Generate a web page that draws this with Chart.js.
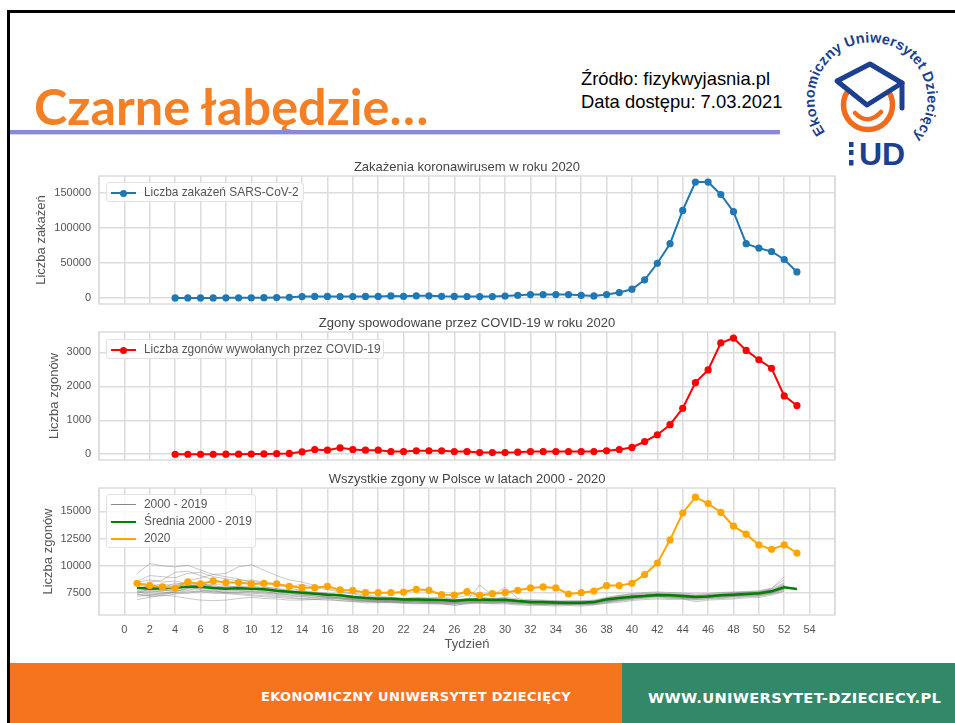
<!DOCTYPE html>
<html lang="pl">
<head>
<meta charset="utf-8">
<title>Czarne łabędzie…</title>
<script src="https://cdn.jsdelivr.net/npm/chart.js@4"></script>
<style>
html, body { margin: 0; padding: 0; background: #fff; }
#slajd { position: relative; width: 955px; height: 723px; overflow: hidden; font-family: "Liberation Sans", Arial, sans-serif; }
.ramkaGora { position: absolute; left: 7px; top: 10px; width: 948px; height: 3px; background: #000; }
.ramkaLewa { position: absolute; left: 7px; top: 10px; width: 3px; height: 713px; background: #000; }
.naglowek { position: absolute; left: 34px; top: 76px; font: bold 50.4px Lato, sans-serif; color: #f57f25; line-height: 60px; white-space: nowrap; }
.kreska { position: absolute; left: 10px; top: 130px; width: 770px; height: 4px; background: #8888e0; border-bottom: 1px solid #d4d4f2; }
.zrodlo { position: absolute; left: 581px; top: 67px; font-size: 18.4px; line-height: 23px; color: #000; white-space: nowrap; }
.stopkaL { position: absolute; left: 10px; top: 663px; width: 612px; height: 60px; background: #f7741f; }
.stopkaP { position: absolute; left: 622px; top: 663px; width: 333px; height: 60px; background: #33886a; }
.stopkaL span, .stopkaP span { position: absolute; top: 26px; color: #fff; font: bold 13px "DejaVu Sans", sans-serif; white-space: nowrap; }
.stopkaL span { left: 251px; letter-spacing: 0.35px; }
.stopkaP span { left: 26px; font-size: 14.7px; letter-spacing: 0.3px; }
canvas { position: absolute; left: 0; filter: blur(0.35px); }
.legenda { position: absolute; left: 106px; box-sizing: border-box; background: rgba(255,255,255,0.8); border: 1px solid #e2e2e2; border-radius: 3px; padding: 0.5px 6px 0.5px 4px; font-size: 11.9px; color: #555; }
.legenda div { position: relative; height: 17px; line-height: 17px; padding-left: 33px; white-space: nowrap; }
.legenda i { position: absolute; left: 0; top: 8px; width: 25px; }
.legenda b { position: absolute; left: 9px; top: -4px; width: 7px; height: 7px; border-radius: 50%; }
#logo { position: absolute; left: 780px; top: 0; }
</style>
</head>
<body>
<div id="slajd">
  <div class="ramkaGora"></div>
  <div class="ramkaLewa"></div>
  <div class="naglowek">Czarne łabędzie…</div>
  <div class="kreska"></div>
  <div class="zrodlo">Źródło: fizykwyjasnia.pl<br>Data dostępu: 7.03.2021</div>

  <svg id="logo" width="175" height="175" viewBox="780 0 175 175">
    <defs><path id="luk" d="M 825.3 132.2 A 56.5 56.5 0 1 1 911.8 138"></path></defs>
    <text font-family="Liberation Sans" font-weight="bold" font-size="14.5" fill="#1d3f8f">
      <textPath href="#luk" textLength="254">Ekonomiczny Uniwersytet Dziecięcy</textPath>
    </text>
    <circle cx="868" cy="105" r="24.5" fill="none" stroke="#f26a1b" stroke-width="5.5"></circle>
    <path d="M 855 113 Q 868 126 881 112" fill="none" stroke="#f26a1b" stroke-width="4.5" stroke-linecap="round"></path>
    <path d="M 837 81 L 870 64 L 902 83 L 867 105 Z" fill="#fff" stroke="#1d3f8f" stroke-width="5" stroke-linejoin="round"></path>
    <path d="M 902 83 L 902 108" fill="none" stroke="#1d3f8f" stroke-width="5" stroke-linecap="round"></path>
    <rect x="832" y="140" width="70" height="30" fill="#fff"></rect>
    <rect x="849" y="142" width="4.5" height="5" fill="#1d3f8f"></rect>
    <rect x="849" y="150" width="4.5" height="5" fill="#1d3f8f"></rect>
    <rect x="849" y="160" width="4.5" height="5.5" fill="#1d3f8f"></rect>
    <text x="859" y="165" font-family="Liberation Sans" font-weight="bold" font-size="32" fill="#1d3f8f">UD</text>
  </svg>

  <canvas id="wykresZakazen" style="top:160px"></canvas>
  <canvas id="wykresZgonowCovid" style="top:316px"></canvas>
  <canvas id="wykresZgonow" style="top:472px"></canvas>
  <div class="legenda" id="legendaZakazen" style="top:182px;width:198px"></div>
  <div class="legenda" id="legendaZgonowCovid" style="top:339px;width:278px"></div>
  <div class="legenda" id="legendaZgonow" style="top:494px;width:150px"></div>

  <div class="stopkaL"><span>EKONOMICZNY UNIWERSYTET DZIECIĘCY</span></div>
  <div class="stopkaP"><span>WWW.UNIWERSYTET-DZIECIECY.PL</span></div>
</div>

<script>
// Dane
const tygodnieCovid = [4,5,6,7,8,9,10,11,12,13,14,15,16,17,18,19,20,21,22,23,24,25,26,27,28,29,30,31,32,33,34,35,36,37,38,39,40,41,42,43,44,45,46,47,48,49,50,51,52,53];
const tygodnie = [1,2,3,4,5,6,7,8,9,10,11,12,13,14,15,16,17,18,19,20,21,22,23,24,25,26,27,28,29,30,31,32,33,34,35,36,37,38,39,40,41,42,43,44,45,46,47,48,49,50,51,52,53];

const zakazenia = [10,20,50,100,150,200,300,400,600,1000,2000,2200,2200,2100,2100,2200,2200,2900,2300,3000,3000,2300,2200,2100,2000,2000,2800,3850,4800,4800,4800,4800,3800,2900,4800,7700,12500,26000,49600,77600,125300,165800,165800,148000,123400,77600,71300,66500,55000,37200];
const zgonyCovid = [0,0,0,0,1,2,5,8,15,25,70,140,120,190,140,120,120,80,80,100,100,100,80,80,50,50,50,60,80,80,80,80,80,80,100,140,200,375,575,870,1355,2110,2485,3280,3425,3060,2785,2535,1720,1435];
const zgony2020 = [8395,8180,8055,7960,8515,8330,8610,8455,8455,8330,8395,8330,8115,7995,7995,8115,7780,7750,7530,7530,7530,7590,7840,7750,7345,7315,7625,7285,7440,7530,7750,7965,8055,7965,7410,7530,7685,8180,8180,8395,9200,10245,12375,14845,16295,15710,14905,13640,12900,11915,11510,11915,11170];
const srednia = [7990,7900,7930,7990,8085,8085,7960,7900,7930,7900,7840,7715,7620,7530,7440,7345,7285,7130,7035,6975,6975,6915,6915,6885,6850,6790,6885,6915,6850,6885,6760,6665,6665,6635,6605,6605,6665,6915,7035,7160,7220,7315,7285,7220,7130,7190,7285,7345,7410,7470,7655,8025,7870];

// Szare linie z lat 2000 - 2019 (szacunek, gęsto nachodzą na siebie)
const lata = [
  [9300,10200,10000,9900,10050,9600,9200,9300,9900,10100,9600,9100,8700,8500,8200,7900,7700,7500,7300,7200,7100,7000,7000,6900,6900,6800,6900,7000,6900,6900,6800,6750,6700,6700,6650,6700,6750,7000,7150,7250,7300,7400,7350,7300,7250,7250,7350,7400,7500,7500,7700,8200],
  [8600,9100,9000,8900,9300,9400,9000,8800,8600,8700,8500,8300,8100,8300,8000,7800,7600,7400,7200,7100,7050,7000,7100,7050,7100,7000,7300,7100,7000,7100,6950,6900,6850,6800,6800,6800,6850,7100,7300,7450,7550,7600,7550,7500,7400,7450,7550,7600,7650,7700,7950,8700],
  [8200,8500,8700,9400,9500,9100,8700,8500,8400,8600,8400,8200,8000,7700,7600,7500,7300,7200,7000,6950,6900,6850,6800,6750,6800,6700,6750,6700,6750,6800,6700,6600,6600,6550,6600,6550,6650,6900,7000,7150,7250,7300,7350,7250,7150,7200,7300,7300,7400,7450,7650,8050],
  [7900,8200,8300,8200,8600,8900,9200,9000,8800,8500,8100,7900,7800,7700,7500,7400,7200,7100,6900,6850,6800,6800,6750,6700,6650,6600,6800,8240,7300,8025,7000,6600,6550,6500,6500,6550,6600,6800,6950,7100,7200,7250,7200,7150,7100,7100,7200,7250,7350,7350,7550,7950],
  [7600,7400,7500,7700,7800,7900,7800,7700,7700,7600,7500,7400,7300,7200,7100,7100,7000,6900,6800,6750,6700,6650,6700,6650,6600,6550,6600,6650,6600,6650,6550,6500,6450,6450,6400,6450,6500,6700,6800,6950,7050,7150,7050,7000,6900,7000,7050,7150,7200,7250,7450,7800],
  [6900,7100,7300,7200,7000,6850,6800,6850,7000,7100,7000,6950,6850,6850,6900,6950,6800,6700,6600,6600,6650,6550,6500,6550,6500,6350,6550,6600,6500,6500,6400,6350,6350,6300,6350,6300,6400,6550,6650,6800,6900,6950,6900,6950,6700,6850,6900,6950,7050,7100,7300,7650],
  [7500,7650,7600,7500,7600,7700,7750,7500,7450,7350,7250,7200,7100,7000,6950,7000,6950,6800,6750,6700,6700,6600,6600,6600,6600,6500,6650,6700,6650,6700,6600,6550,6500,6550,6500,6500,6550,6750,6900,7000,7150,7200,7150,7050,7000,7100,7150,7200,7300,7350,7500,7900],
  [8000,7900,8000,8400,8300,8100,8000,8100,8100,8000,8000,7900,7700,7500,7400,7300,7200,7000,6950,6900,6850,6800,6850,6800,6800,6700,6850,6850,6800,6850,6800,6700,6700,6650,6700,6700,6700,6900,7100,7250,7350,7350,7300,7300,7150,7300,7350,7450,7500,7550,7800,8350],
  [7400,7300,7350,7600,7950,8150,8300,8200,8000,7900,7700,7600,7500,7300,7250,7150,7100,6950,6850,6800,6750,6750,6700,6650,6700,6650,6700,6800,6700,6750,6650,6600,6550,6600,6550,6600,6600,6800,6950,7100,7200,7300,7200,7100,7050,7150,7200,7300,7350,7400,7600,8000],
  [7700,7550,7700,7850,8100,7800,7600,7550,7600,7650,7600,7500,7450,7400,7250,7200,7050,6900,6800,6800,6800,6700,6750,6750,6700,6600,6700,6750,7000,6800,6650,6600,6600,6500,6550,6550,6550,6750,6850,7050,7150,7250,7250,7150,7050,7150,7250,7250,7300,7400,7600,8100],
  [8500,8700,8500,8600,8350,8300,8200,7950,8100,8150,8000,7800,7600,7600,7550,7450,7350,7200,7100,7050,7000,6950,7000,7000,7050,6900,6950,6950,6900,6950,6800,6800,6750,6700,6750,6750,6800,7000,7200,7350,7450,7500,7450,7400,7300,7350,7450,7550,7550,7600,7850,8450],
  [7350,7200,7250,7400,7500,7600,7500,7450,7350,7250,7150,7100,7000,6950,6900,6850,6800,6750,6700,6650,6600,6600,6550,6500,6500,6400,6500,6550,6550,6600,6500,6450,6450,6400,6450,6400,6450,6600,6750,6900,7000,7050,7000,6950,6850,6950,7000,7050,7150,7200,7400,7700],
  [7800,7750,7800,8000,8200,8250,8050,7900,7950,7850,7800,7650,7550,7450,7400,7300,7250,7100,7000,6950,6950,6900,6900,6850,6850,6750,6800,6900,6800,6800,6750,6650,6650,6600,6600,6600,6650,6950,7100,7200,7300,7350,7350,7250,7200,7250,7300,7400,7450,7550,7750,8200],
  [8300,8000,7900,8100,8500,8400,8100,8000,7900,7800,7900,7750,7700,7600,7500,7400,7350,7250,7150,7050,7050,7000,6950,6950,6900,6850,6950,7000,7000,7000,6850,6750,6800,6750,6700,6700,6750,7050,7250,7400,7400,7450,7400,7350,7250,7350,7400,7500,7600,7650,7900,9000],
  [7200,7300,7450,7550,7700,7650,7650,7600,7550,7500,7400,7300,7200,7150,7050,7050,6950,6850,6750,6700,6700,6650,6650,6600,6550,6500,6600,6650,6600,6600,6500,6500,6400,6450,6450,6450,6500,6650,6850,7000,7100,7200,7100,7050,6950,7050,7100,7200,7250,7300,7500,7850],
  [7600,7800,7750,7700,7900,7950,7900,7800,7750,7700,7650,7450,7350,7300,7200,7150,7050,7000,6900,6850,6800,6750,6800,6700,6750,6650,6800,6750,6700,6700,6700,6550,6600,6550,6550,6600,6600,6850,7000,7150,7250,7300,7250,7200,7100,7200,7250,7350,7400,7450,7700,8250]
];

const tickiZakazen = [0,50000,100000,150000];
const tickiCovid = [0,1000,2000,3000];
const tickiZgonow = [7500,10000,12500,15000];

const kolorSiatki = "#dcdcdc";
const kolorTekstu = "#555";
const czcionka = "Liberation Sans";

function punkty(xs, ys) {
    return ys.map(function(y, i) { return { x: xs[i], y: y }; });
}

// Ramka wokół obszaru wykresu, tytuł centrowany nad obszarem a nie nad płótnem
const ramkaObszaru = {
    id: "ramkaObszaru",
    afterLayout: function(chart) {
        chart.titleBlock.left = chart.chartArea.left;
        chart.titleBlock.right = chart.chartArea.right;
    },
    beforeDatasetsDraw: function(chart) {
        const a = chart.chartArea;
        const ctx = chart.ctx;
        ctx.save();
        ctx.strokeStyle = kolorSiatki;
        ctx.lineWidth = 1.5;
        ctx.strokeRect(a.left, a.top, a.width, a.height);
        ctx.restore();
    }
};

function opcje(tytul, tytulY, yMin, yMax, ticki, odsuniecieY, dolnaOs) {
    return {
        responsive: false,
        animation: false,
        layout: { padding: { right: 120 } },
        plugins: {
            legend: { display: false },
            tooltip: { enabled: false },
            title: {
                display: true,
                text: tytul,
                color: "#444",
                font: { family: czcionka, size: 13, weight: "normal", lineHeight: "15px" },
                padding: { top: 0, bottom: 1 }
            }
        },
        scales: {
            x: {
                type: "linear",
                min: -2,
                max: 56,
                afterFit: function(s) {
                    s.height = dolnaOs ? 45 : 2;
                    s.paddingLeft = 0;
                    s.paddingRight = 0;
                },
                grid: { color: kolorSiatki, lineWidth: 1.5, drawTicks: false },
                border: { display: false },
                ticks: {
                    display: dolnaOs,
                    stepSize: 2,
                    autoSkip: false,
                    maxRotation: 0,
                    padding: 8,
                    color: kolorTekstu,
                    font: { family: czcionka, size: 11 },
                    callback: function(v) { return (v < 0 || v > 54) ? "" : v; }
                },
                title: {
                    display: dolnaOs,
                    text: "Tydzień",
                    color: kolorTekstu,
                    font: { family: czcionka, size: 13, lineHeight: "15px" },
                    padding: { top: 0, bottom: 8.5 }
                }
            },
            y: {
                min: yMin,
                max: yMax,
                afterBuildTicks: function(s) {
                    s.ticks = ticki.map(function(v) { return { value: v }; });
                },
                afterFit: function(s) {
                    s.width = 99;
                    s.paddingTop = 0;
                    s.paddingBottom = 0;
                },
                grid: { color: kolorSiatki, lineWidth: 1.5, drawTicks: false },
                border: { display: false },
                ticks: {
                    padding: 8,
                    color: kolorTekstu,
                    font: { family: czcionka, size: 11 },
                    callback: function(v) { return String(v); }
                },
                title: {
                    display: true,
                    text: tytulY,
                    color: kolorTekstu,
                    font: { family: czcionka, size: 13, lineHeight: "15px" },
                    padding: { top: odsuniecieY, bottom: 0 }
                }
            }
        }
    };
}

function seriaPunktowa(nazwa, xs, ys, kolor, kolejnosc) {
    return {
        label: nazwa,
        data: punkty(xs, ys),
        borderColor: kolor,
        backgroundColor: kolor,
        borderWidth: 2,
        pointRadius: 3.6,
        pointBackgroundColor: kolor,
        pointBorderWidth: 0,
        tension: 0,
        order: kolejnosc
    };
}

function wstawLegende(id, pozycje) {
    const box = document.getElementById(id);
    pozycje.forEach(function(p) {
        const d = document.createElement("div");
        const kreska = document.createElement("i");
        kreska.style.borderTop = p.grubosc + "px solid " + p.kolor;
        if (p.znacznik) {
            const kropka = document.createElement("b");
            kropka.style.background = p.kolor;
            kreska.appendChild(kropka);
        }
        d.appendChild(kreska);
        d.appendChild(document.createTextNode(p.nazwa));
        box.appendChild(d);
    });
}

function rysuj(id, szerokosc, wysokosc, zbiory, op) {
    const c = document.getElementById(id);
    c.width = szerokosc;
    c.height = wysokosc;
    c.style.width = szerokosc + "px";
    c.style.height = wysokosc + "px";
    return new Chart(c.getContext("2d"), { type: "line", data: { datasets: zbiory }, options: op, plugins: [ramkaObszaru] });
}

const nazwaZakazen = "Liczba zakażeń SARS-CoV-2";
const nazwaCovid = "Liczba zgonów wywołanych przez COVID-19";

rysuj("wykresZakazen", 955, 148,
    [seriaPunktowa(nazwaZakazen, tygodnieCovid, zakazenia, "#1f77b4", 0)],
    opcje("Zakażenia koronawirusem w roku 2020", "Liczba zakażeń", -8650, 174500, tickiZakazen, 33.5, false));

rysuj("wykresZgonowCovid", 955, 148,
    [seriaPunktowa(nazwaCovid, tygodnieCovid, zgonyCovid, "#ff0000", 0)],
    opcje("Zgony spowodowane przez COVID-19 w roku 2020", "Liczba zgonów", -170, 3603, tickiCovid, 46.5, false));

const zbioryZgonow = lata.map(function(rok) {
    return {
        label: "2000 - 2019",
        data: punkty(tygodnie, rok),
        borderColor: "rgba(120,120,120,0.4)",
        borderWidth: 1,
        pointRadius: 0,
        tension: 0,
        order: 2
    };
});
zbioryZgonow.push({
    label: "Średnia 2000 - 2019",
    data: punkty(tygodnie, srednia),
    borderColor: "#008000",
    borderWidth: 2.5,
    pointRadius: 0,
    tension: 0,
    order: 1
});
zbioryZgonow.push(seriaPunktowa("2020", tygodnie, zgony2020, "#ffa500", 0));

rysuj("wykresZgonow", 955, 188, zbioryZgonow,
    opcje("Wszystkie zgony w Polsce w latach 2000 - 2020", "Liczba zgonów", 5483, 17137, tickiZgonow, 40.5, true));

wstawLegende("legendaZakazen", [{ nazwa: nazwaZakazen, kolor: "#1f77b4", grubosc: 2, znacznik: true }]);
wstawLegende("legendaZgonowCovid", [{ nazwa: nazwaCovid, kolor: "#ff0000", grubosc: 2, znacznik: true }]);
wstawLegende("legendaZgonow", [
    { nazwa: "2000 - 2019", kolor: "#888", grubosc: 1, znacznik: false },
    { nazwa: "Średnia 2000 - 2019", kolor: "#008000", grubosc: 2, znacznik: false },
    { nazwa: "2020", kolor: "#ffa500", grubosc: 2, znacznik: false }
]);
</script>
</body>
</html>
